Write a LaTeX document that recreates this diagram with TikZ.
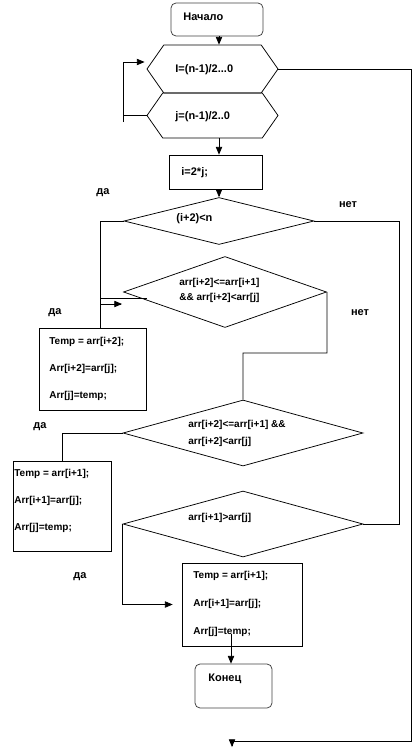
\documentclass[tikz,border=0pt]{standalone}
\usepackage{fontspec}
\setmainfont{Liberation Sans}
\usetikzlibrary{
  shapes.geometric,
  shapes.symbols,
  arrows
}

\begin{document}
\begin{tikzpicture}[
    x=1pt, y=-1pt, >=triangle 45, line width=0.75pt,
    block/.style={
      rectangle,
      draw=black,
      inner sep=0pt
    },
    term/.style={
      rectangle,
      rounded corners=5pt,
      draw=black!75,
      inner sep=0pt
    },
    cond/.style={
      diamond,
      draw=black,
      inner sep=0pt
    },
    loophex/.style={
      signal,
      signal to=west and east,
      signal pointer angle=110,
      draw=black,
      inner sep=0pt
    },
    txt/.style={
      anchor=west,
      inner sep=0pt,
      align=left,
      font=\fontsize{10}{12}\selectfont\bfseries
    },
    bigtxt/.style={
      txt,
      font=\fontsize{11}{13}\selectfont\bfseries
    },
    termtxt/.style={
      anchor=west,
      inner sep=0pt,
      font=\fontsize{11}{13}\selectfont\bfseries
    },
    lbl/.style={
      inner sep=0pt,
      font=\fontsize{11}{13}\selectfont\bfseries
    }
  ]
  \useasboundingbox (0,0) rectangle (413,752);

  % shapes
  \node[term, minimum width=92pt, minimum height=33pt] (start) at (217,19.5) {};
  \node[loophex, minimum width=131pt, minimum height=48pt] (hex1) at (212.5,69) {};
  \node[loophex, minimum width=131pt, minimum height=45pt] (hex2) at (212.5,115.5) {};
  \node[block, minimum width=93pt, minimum height=34pt] (calc) at (215.5,172) {};
  \node[cond, minimum width=190pt, minimum height=47pt] (d1) at (219,221) {};
  \node[cond, minimum width=203pt, minimum height=71pt] (d2) at (225,292) {};
  \node[block, minimum width=107pt, minimum height=82pt] (box1) at (92.5,369) {};
  \node[cond, minimum width=240pt, minimum height=66pt] (d3) at (243,433) {};
  \node[block, minimum width=98pt, minimum height=90pt] (box2) at (62,506) {};
  \node[cond, minimum width=240pt, minimum height=66pt] (d4) at (243,524) {};
  \node[block, minimum width=120pt, minimum height=83pt] (box3) at (242,604.5) {};
  \node[term, minimum width=77pt, minimum height=44pt] (stop) at (233.5,686) {};

  % texts
  \node[termtxt] (startT) at (183,17) {Начало};
  \node[bigtxt] (hex1T) at (175,70) {I=(n-1)/2...0};
  \node[bigtxt] (hex2T) at (175,117) {j=(n-1)/2..0};
  \node[bigtxt] (calcT) at (181,173) {i=2*j;};
  \node[bigtxt] (d1T) at (176,219) {(i+2)<n};
  \node[txt, font=\fontsize{10}{15}\selectfont\bfseries] (d2T) at (179,290.5)
    {arr[i+2]<=arr[i+1]\\\&\& arr[i+2]<arr[j]};
  \node[txt, font=\fontsize{10}{17}\selectfont\bfseries] (d3T) at (188,433.5)
    {arr[i+2]<=arr[i+1] \&\&\\arr[i+2]<arr[j]};
  \node[txt] (d4T) at (188,518) {arr[i+1]>arr[j]};
  \node[txt, font=\fontsize{10}{27}\selectfont\bfseries] (box1T) at (49,368.5)
    {Temp = arr[i+2];\\Arr[i+2]=arr[j];\\Arr[j]=temp;};
  \node[txt, font=\fontsize{10}{27}\selectfont\bfseries] (box2T) at (14,501)
    {Temp = arr[i+1];\\Arr[i+1]=arr[j];\\Arr[j]=temp;};
  \node[txt, font=\fontsize{10}{28}\selectfont\bfseries] (box3T) at (193,603.5)
    {Temp = arr[i+1];\\Arr[i+1]=arr[j];\\Arr[j]=temp;};
  \node[termtxt] (stopT) at (208,679) {Конец};

  % branch labels
  \node[lbl] (yes1) at (103,193) {да};
  \node[lbl] (no1) at (348,205) {нет};
  \node[lbl] (yes2) at (55,313) {да};
  \node[lbl] (no2) at (360,313) {нет};
  \node[lbl] (yes3) at (40,427) {да};
  \node[lbl] (yes4) at (80,577) {да};

  % points for the lines
  \coordinate (colA) at (219,0);
  \coordinate (loopbot) at (123,122);
  \coordinate (looptop) at (123,62);
  \coordinate (yesA) at (100,221);
  \coordinate (stubA) at (147,298);
  \coordinate (stubB) at (122,304);
  \coordinate (noA) at (399,524);
  \coordinate (noB) at (327,353);
  \coordinate (outR) at (411,741);
  \coordinate (endA) at (232,741);
  \coordinate (endB) at (232,747);
  \coordinate (outC) at (231,634);

  % connectors
  \draw[->] (start.south -| colA) -- (hex1.north -| colA);
  \draw[->] (hex2.south -| colA) -- (calc.north -| colA);
  \draw[->] (calc.south -| colA) -- (d1.north -| colA);
  \draw (hex2.west) -- (hex2.west -| loopbot);
  \draw[->] (loopbot) -- (looptop) -- ([xshift=-2pt]looptop -| hex1.west);
  \draw[->] (hex1.east) -| (outR) -- (endA) -- (endB);
  \draw (d1.west) -- (yesA) -- (yesA |- box1.north);
  \draw (yesA |- stubA) -- (stubA);
  \draw[->] (yesA |- stubB) -- (stubB);
  \draw (d1.east) -| (noA) -- (d4.east);
  \draw (d2.east) -- (noB) -| (d3.north);
  \draw (d3.west) -| (box2.north);
  \draw[->, shorten >=9pt] (d4.west) |- (box3.west);
  \draw[->] (outC) -- (outC |- stop.north);
\end{tikzpicture}
\end{document}
